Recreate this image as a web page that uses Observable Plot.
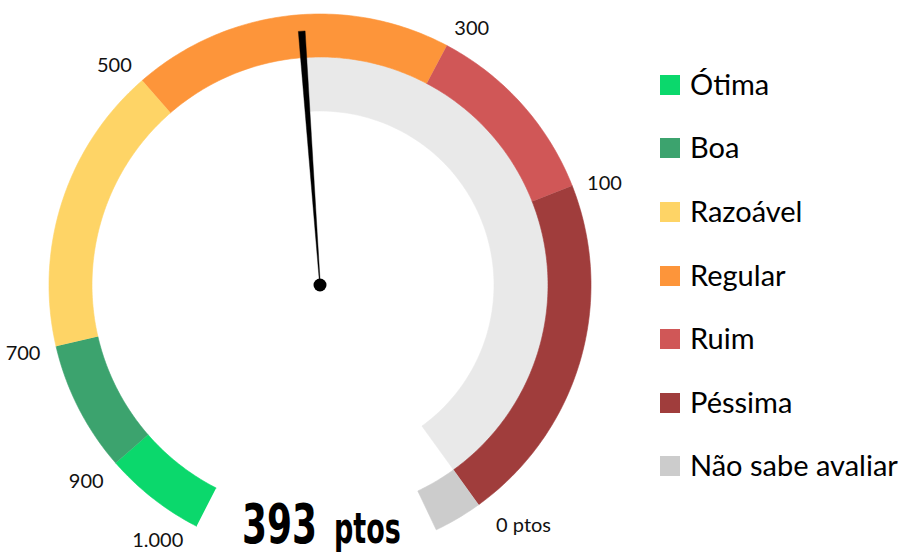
<!DOCTYPE html>
<html><head><meta charset="utf-8">
<script src="https://cdn.jsdelivr.net/npm/d3@7"></script>
<script src="https://cdn.jsdelivr.net/npm/@observablehq/plot@0.6"></script>
<style>
body{margin:0;background:#fff;}
#wrap{position:relative;width:907px;height:556px;overflow:hidden;}
#legend{position:absolute;left:660px;top:53px;font-family:Lato,"Open Sans",sans-serif;font-size:29px;color:#000;}
.row{display:flex;align-items:center;height:63.6px;}
.sw{width:20px;height:20px;margin-right:10px;flex:none;}
.lab{position:relative;top:-1.5px;white-space:nowrap;}
</style></head><body>
<div id="wrap"><div id="chart"></div><div id="legend"></div></div>
<script>
// ---- data ----
const categories = ["Ótima","Boa","Razoável","Regular","Ruim","Péssima","Não sabe avaliar"];
const shares = [7.1, 9.1, 20.2, 22.4, 13.2, 24.6, 3.4];          // % of answers
const colors = ["#0bd86c","#3ca36e","#fed466","#fd953a","#d05757","#a03d3c","#cccccc"];
const tickLabels = ["1.000","900","700","500","300","100","0 ptos"];
const tickValues = [1000, 900, 700, 500, 300, 100, 0];
const score = 393;
const scoreUnit = "ptos";

// ---- geometry (layout) ----
const START = 242.9, SWEEP = 307.5;           // degrees
const R_OUT = 1, R_IN = 228/271, R_BG_IN = 174/271, R_LAB = 287/271;
const rad = c => (START - c/100*SWEEP) * Math.PI/180;
const cum = [0]; shares.forEach((s,i)=>cum.push(cum[i]+s));

function arcPts(c0, c1, r0, r1, key){
  const n = Math.max(2, Math.ceil(Math.abs(c1-c0)*4));
  const pts = [];
  for (let i=0;i<=n;i++){const a=rad(c0+(c1-c0)*i/n); pts.push({key, x:r1*Math.cos(a), y:r1*Math.sin(a)});}
  for (let i=n;i>=0;i--){const a=rad(c0+(c1-c0)*i/n); pts.push({key, x:r0*Math.cos(a), y:r0*Math.sin(a)});}
  return pts;
}

const segPts = categories.flatMap((c,i)=>arcPts(cum[i], cum[i+1], R_IN, R_OUT, c));

// needle position on the piecewise scale
let k = 0; while (k < tickValues.length-2 && score < tickValues[k+1]) k++;
const cNeedle = cum[k] + (tickValues[k]-score)/(tickValues[k]-tickValues[k+1]) * shares[k];
const bgPts = arcPts(cNeedle, cum[tickValues.length-1], R_BG_IN, R_IN, "bg");

const th = rad(cNeedle), ux = Math.cos(th), uy = Math.sin(th), px = -uy, py = ux;
const tipR = 254.5/271, baseR = 0.02, wTip = 3.4/271, wBase = 0.4/271;
const needlePts = [
  {x: baseR*ux + wBase*px, y: baseR*uy + wBase*py},
  {x: tipR*ux + wTip*px,  y: tipR*uy + wTip*py},
  {x: tipR*ux - wTip*px,  y: tipR*uy - wTip*py},
  {x: baseR*ux - wBase*px, y: baseR*uy - wBase*py}
];

const ticks = tickLabels.map((t,i)=>{
  const a = rad(cum[i]);
  return {i, label:t, x:R_LAB*Math.cos(a), y:R_LAB*Math.sin(a), c:Math.cos(a), s:Math.sin(a)};
});
const tickMarks = ticks.map(t => {
  const ta = t.c > 0.3 ? "start" : t.c < -0.3 ? "end" : "middle";
  let la = t.s > 0.45 ? "bottom" : t.s < -0.45 ? "top" : "middle";
  let dx = 0, dy = 4;
  if (t.i === 0) { la = "middle"; dx = -6; dy = 0; }       // label beside the gauge's end cap
  else if (la === "top") { dy = 0; if (ta === "start") dx = 8; }
  return Plot.text([t], {x:"x", y:"y", text:"label", fontSize:20, fill:"#111",
    textAnchor: ta, lineAnchor: la, dx, dy});
});

const cx = 319.5, cy = 284.5, U = 271, W = 907, H = 556;
const scoreY = -(542.7 - cy)/U;
const scoreFont = "'DejaVu Sans Condensed','Liberation Sans Narrow',sans-serif";
const SX = 0.714;   // horizontal condensing of the score face

const chart = Plot.plot({
  width: W, height: H, margin: 0,
  style: {fontFamily: "Lato, 'Open Sans', sans-serif", background: "transparent"},
  x: {domain: [-cx/U, (W-cx)/U], axis: null},
  y: {domain: [-(H-cy)/U, cy/U], axis: null},
  color: {domain: [...categories, "bg"], range: [...colors, "#e9e9e9"]},
  marks: [
    Plot.line(bgPts, {x:"x", y:"y", z:"key", fill:"key", stroke:"key", strokeWidth:0.6}),
    Plot.line(segPts, {x:"x", y:"y", z:"key", fill:"key", stroke:"key", strokeWidth:0.6}),
    Plot.line(needlePts, {x:"x", y:"y", fill:"#000", stroke:"#000", strokeWidth:0.4}),
    Plot.dot([{x:0,y:0}], {x:"x", y:"y", r:6.5, fill:"#000"}),
    ...tickMarks,
    Plot.text([score], {x:()=>0, y:()=>scoreY, text:d=>String(d), textAnchor:"start", lineAnchor:"bottom", dx:-78,
      fontSize:56, fontWeight:"bold", fontFamily:scoreFont, fill:"#000", className:"score"})
  ]
});
document.getElementById("chart").appendChild(chart);

// one text line: big condensed figure + smaller unit
d3.select(chart).selectAll(".score text").each(function(){
  const t = d3.select(this); const v = t.text(); t.text(null);
  t.append("tspan").text(v);
  t.append("tspan").text(scoreUnit).attr("font-size", 42).attr("dx", 17/SX);
  const tr = t.attr("transform") || "";
  t.attr("transform", `${tr} scale(${SX},1)`);
});

// legend
const lg = document.getElementById("legend");
categories.forEach((c,i)=>{
  const row = document.createElement("div"); row.className="row";
  const sw = document.createElement("div"); sw.className="sw"; sw.style.background = colors[i];
  const lab = document.createElement("span"); lab.className="lab"; lab.textContent = c;
  row.appendChild(sw); row.appendChild(lab); lg.appendChild(row);
});
</script>
</body></html>
